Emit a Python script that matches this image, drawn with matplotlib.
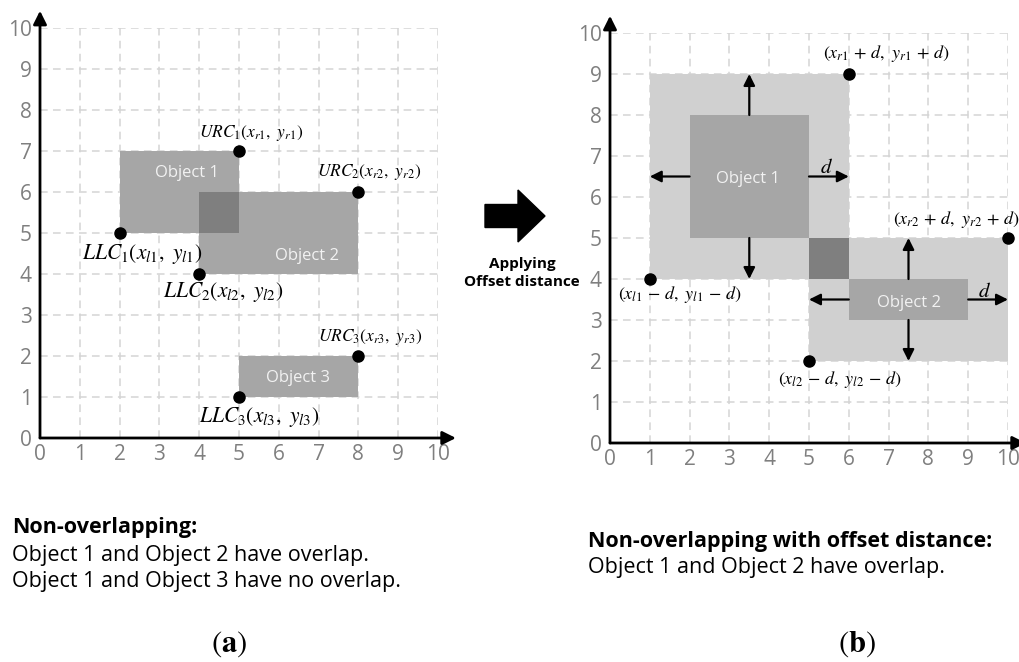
import matplotlib
matplotlib.use('Agg')
import matplotlib.pyplot as plt
from matplotlib.patches import Rectangle, FancyArrow

plt.rcParams['font.family'] = ['Open Sans', 'DejaVu Sans']
plt.rcParams['mathtext.fontset'] = 'stix'

# ---- data ----
ticks = list(range(11))

# panel (a): three objects, lower-left / upper-right corners
a_names = ['Object 1', 'Object 2', 'Object 3']
a_llc_x = [2, 4, 5]
a_llc_y = [5, 4, 1]
a_urc_x = [5, 8, 8]
a_urc_y = [7, 6, 2]
a_urc_labels = [r'$URC_1(x_{r1},\ y_{r1})$', r'$URC_2(x_{r2},\ y_{r2})$', r'$URC_3(x_{r3},\ y_{r3})$']
a_llc_labels = [r'$LLC_1(x_{l1},\ y_{l1})$', r'$LLC_2(x_{l2},\ y_{l2})$', r'$LLC_3(x_{l3},\ y_{l3})$']

# panel (b): two objects plus offset distance d
b_names = ['Object 1', 'Object 2']
b_llc_x = [2, 6]
b_llc_y = [5, 3]
b_urc_x = [5, 9]
b_urc_y = [8, 4]
offset_d = 1
b_urc_labels = [r'$(x_{r1}\,+\,d,\ y_{r1}\,+\,d)$', r'$(x_{r2}\,+\,d,\ y_{r2}\,+\,d)$']
b_llc_labels = [r'$(x_{l1}\,-\,d,\ y_{l1}\,-\,d)$', r'$(x_{l2}\,-\,d,\ y_{l2}\,-\,d)$']

# ---- layout (label positions in data units) ----
a_name_pos = [(3.69, 6.46), (6.71, 4.44), (6.49, 1.46)]
a_urc_pos = [(4.0, 7.45), (6.96, 6.49), (6.99, 2.46)]
a_llc_pos = [(1.05, 4.49), (3.09, 3.56), (4.0, 0.51)]
b_name_pos = [(3.47, 6.44), (7.51, 3.41)]
b_urc_pos = [(5.35, 9.51), (7.11, 5.44)]
b_llc_pos = [(0.2, 3.61), (4.22, 1.54)]
b_d_pos = [(5.45, 6.72), (9.42, 3.7)]

OBJ = '#a6a6a6'
OVL = '#7f7f7f'
OFF = '#d0d0d0'
TICK = '#7f7f7f'

W, H = 1020, 662
fig = plt.figure(figsize=(W / 100, H / 100), dpi=100)


def setup(ax):
    ax.set_xlim(0, 10)
    ax.set_ylim(0, 10)
    ax.set_xticks(ticks)
    ax.set_yticks(ticks)
    for s in ax.spines.values():
        s.set_visible(False)
    ax.patch.set_visible(False)
    ax.set_axisbelow(True)
    ax.grid(True, color='#d4d4d4', lw=1.1, ls=(0, (5, 3.5)))
    ax.tick_params(length=0, labelsize=15, labelcolor=TICK, pad=4)
    ax.tick_params(axis='y', pad=6)
    for xy in [(0, 10.42), (10.45, 0)]:
        ax.annotate('', xy=xy, xytext=(0, 0), annotation_clip=False,
                    arrowprops=dict(arrowstyle='-|>', lw=2, color='black',
                                    mutation_scale=20, shrinkA=0, shrinkB=0))


def inter(x0, y0, x1, y1, u0, v0, u1, v1):
    lx, ly = max(x0, u0), max(y0, v0)
    rx, ry = min(x1, u1), min(y1, v1)
    if rx > lx and ry > ly:
        return lx, ly, rx, ry
    return None


# ---- panel (a) ----
axa = fig.add_axes([40 / W, (H - 438) / H, 398 / W, 410 / H])
setup(axa)
for i in range(3):
    axa.add_patch(Rectangle((a_llc_x[i], a_llc_y[i]), a_urc_x[i] - a_llc_x[i],
                            a_urc_y[i] - a_llc_y[i], fc=OBJ, ec='none', zorder=2))
for i in range(3):
    for j in range(i + 1, 3):
        r = inter(a_llc_x[i], a_llc_y[i], a_urc_x[i], a_urc_y[i],
                  a_llc_x[j], a_llc_y[j], a_urc_x[j], a_urc_y[j])
        if r:
            axa.add_patch(Rectangle((r[0], r[1]), r[2] - r[0], r[3] - r[1],
                                    fc=OVL, ec='none', zorder=3))
for i in range(3):
    axa.text(*a_name_pos[i], a_names[i], color='#f2f2f2', fontsize=12,
             ha='center', va='center', zorder=5)
    axa.plot([a_urc_x[i], a_llc_x[i]], [a_urc_y[i], a_llc_y[i]], 'o', color='black',
             ms=8, ls='none', zorder=6, clip_on=False)
    axa.text(*a_urc_pos[i], a_urc_labels[i], fontsize=12.5, ha='left', va='center', zorder=6)
    axa.text(*a_llc_pos[i], a_llc_labels[i], fontsize=15.5, ha='left', va='center', zorder=6)

# ---- panel (b) ----
axb = fig.add_axes([610 / W, (H - 443) / H, 398 / W, 410 / H])
setup(axb)
ox0 = [v - offset_d for v in b_llc_x]
oy0 = [v - offset_d for v in b_llc_y]
ox1 = [v + offset_d for v in b_urc_x]
oy1 = [v + offset_d for v in b_urc_y]
for i in range(2):
    axb.add_patch(Rectangle((ox0[i], oy0[i]), ox1[i] - ox0[i], oy1[i] - oy0[i],
                            fc=OFF, ec='none', zorder=2))
r = inter(ox0[0], oy0[0], ox1[0], oy1[0], ox0[1], oy0[1], ox1[1], oy1[1])
if r:
    axb.add_patch(Rectangle((r[0], r[1]), r[2] - r[0], r[3] - r[1], fc=OVL, ec='none', zorder=3))
arw = dict(arrowstyle='-|>', lw=1.6, color='black', mutation_scale=17, shrinkA=0, shrinkB=0)
for i in range(2):
    axb.add_patch(Rectangle((b_llc_x[i], b_llc_y[i]), b_urc_x[i] - b_llc_x[i],
                            b_urc_y[i] - b_llc_y[i], fc=OBJ, ec='none', zorder=3))
    cx = (b_llc_x[i] + b_urc_x[i]) / 2
    cy = (b_llc_y[i] + b_urc_y[i]) / 2
    for start, end in [((cx, b_urc_y[i]), (cx, oy1[i])), ((cx, b_llc_y[i]), (cx, oy0[i])),
                       ((b_llc_x[i], cy), (ox0[i], cy)), ((b_urc_x[i], cy), (ox1[i], cy))]:
        axb.annotate('', xy=end, xytext=start, arrowprops=arw, zorder=5, annotation_clip=False)
    axb.text(*b_name_pos[i], b_names[i], color='#f2f2f2', fontsize=12,
             ha='center', va='center', zorder=5)
    axb.text(*b_d_pos[i], r'$d$', fontsize=15, ha='center', va='center', zorder=6)
    axb.plot([ox1[i], ox0[i]], [oy1[i], oy0[i]], 'o', color='black', ms=8,
             ls='none', zorder=6, clip_on=False)
    axb.text(*b_urc_pos[i], b_urc_labels[i], fontsize=13, ha='left', va='center',
             zorder=6, clip_on=False)
    axb.text(*b_llc_pos[i], b_llc_labels[i], fontsize=13, ha='left', va='center', zorder=6)

# ---- overlay in figure pixels ----
ov = fig.add_axes([0, 0, 1, 1])
ov.set_xlim(0, W)
ov.set_ylim(H, 0)
ov.axis('off')
ov.add_patch(FancyArrow(485, 216, 60, 0, width=23, head_width=52, head_length=27,
                        length_includes_head=True, color='black'))
ov.text(522, 273, 'Applying\nOffset distance', fontsize=11, fontweight='bold',
        ha='center', va='center', linespacing=1.35)

ov.text(12, 528, 'Non-overlapping:', fontsize=15.5, fontweight='bold', ha='left', va='center')
ov.text(12, 555, 'Object 1 and Object 2 have overlap.', fontsize=15.5, ha='left', va='center')
ov.text(12, 582, 'Object 1 and Object 3 have no overlap.', fontsize=15.5, ha='left', va='center')
ov.text(588, 541, 'Non-overlapping with offset distance:', fontsize=15.5, fontweight='bold',
        ha='left', va='center')
ov.text(588, 567, 'Object 1 and Object 2 have overlap.', fontsize=15.5, ha='left', va='center')

ov.text(229, 644, r'$(\mathbf{a})$', fontsize=22, ha='center', va='center')
ov.text(857, 644, r'$(\mathbf{b})$', fontsize=22, ha='center', va='center')

fig.savefig('out.png', dpi=100)
